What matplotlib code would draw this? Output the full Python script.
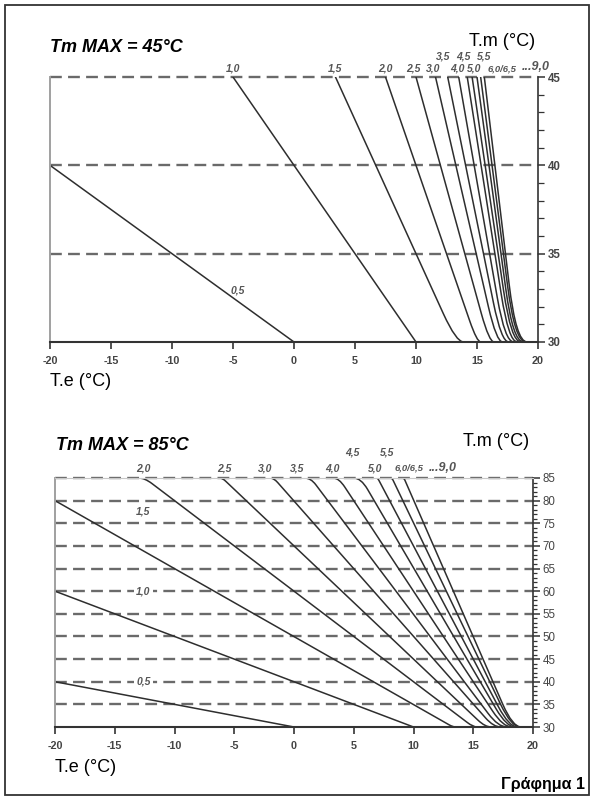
import matplotlib
matplotlib.use("Agg")
import matplotlib.pyplot as plt
from matplotlib.path import Path
from matplotlib.patches import PathPatch, Rectangle
from matplotlib.ticker import MultipleLocator

plt.rcParams['font.family'] = ['Liberation Sans', 'DejaVu Sans']
plt.rcParams['axes.unicode_minus'] = False
plt.rcParams['lines.scale_dashes'] = False

# ---------------- data: top chart (Tm MAX = 45) ----------------
top_labels = ["0,5", "1,0", "1,5", "2,0", "2,5", "3,0", "3,5", "4,0", "4,5", "5,0", "5,5", "6,0", "6,5"]
top_start_te = [-20, -5, 3.4, 7.5, 10.0, 11.6, 12.6, 13.5, 14.2, 14.6, 15.0, 15.3, 15.6]
top_start_tm = [40, 45, 45, 45, 45, 45, 45, 45, 45, 45, 45, 45, 45]
top_corner_te = [0, 10, 13.3, 15.0, 16.0, 16.6, 17.0, 17.3, 17.6, 17.8, 17.95, 18.1, 18.2]
top_end_te = [0, 10, 13.9, 15.3, 16.4, 17.1, 17.6, 18.0, 18.3, 18.6, 18.8, 19.0, 19.1]
top_knee_tm = [30, 30, 31.6, 31.2, 31.6, 32.0, 32.2, 32.5, 32.7, 32.9, 33.0, 33.2, 33.3]

top_row1 = ["1,0", "1,5", "2,0", "2,5", "3,0", "4,0", "5,0"]
top_row1_te = [-5.0, 3.4, 7.5, 9.8, 11.4, 13.4, 14.8]
top_row2 = ["3,5", "4,5", "5,5"]
top_row2_te = [12.2, 13.9, 15.6]

# ---------------- data: bottom chart (Tm MAX = 85) ----------------
bot_labels = ["0,5", "1,0", "1,5", "2,0", "2,5", "3,0", "3,5", "4,0", "4,5", "5,0", "5,5", "6,0"]
bot_start_te = [-20, -20, -20, -13.0, -6.2, -2.0, 0.9, 3.3, 5.0, 6.9, 8.1, 9.1]
bot_start_tm = [40, 60, 80, 85, 85, 85, 85, 85, 85, 85, 85, 85]
bot_topcorner_te = [-20, -20, -20, -12.5, -6.0, -1.7, 1.4, 3.75, 5.6, 7.0, 8.2, 9.2]
bot_topknee_tm = [40, 60, 80, 83.8, 84.3, 84.0, 83.5, 83.0, 82.5, 84.5, 84.5, 84.5]
bot_corner_te = [0, 10, 13.3, 15.0, 16.0, 16.7, 17.1, 17.5, 17.8, 18.0, 18.2, 18.3]
bot_end_te = [0, 10, 13.5, 15.3, 16.5, 17.3, 17.8, 18.2, 18.5, 18.7, 18.9, 19.0]
bot_knee_tm = [30, 30, 30.5, 31.0, 31.5, 32.0, 33.0, 33.5, 34.0, 34.5, 35.0, 35.0]

bot_row1 = ["2,0", "2,5", "3,0", "3,5", "4,0", "5,0"]
bot_row1_te = [-12.6, -5.8, -2.4, 0.3, 3.2, 6.8]
bot_row2 = ["4,5", "5,5"]
bot_row2_te = [4.9, 7.8]
bot_inner = ["1,5", "1,0", "0,5"]
bot_inner_tm = [77.7, 60, 40]

x_ticks = [-20, -15, -10, -5, 0, 5, 10, 15, 20]

CURVE = '#2e2e2e'
DASH = '#6a6a6a'
LAB = '#555555'

fig = plt.figure(figsize=(5.96, 8.0), dpi=100)
W, H = 596.0, 800.0


def add_axes_px(l, t, r, b):
    return fig.add_axes([l / W, 1 - b / H, (r - l) / W, (b - t) / H])


def draw_curve(ax, s, u, uk, l, lk, e):
    # u: upper corner, l: lower corner (straight part between them)
    def on_line(tm):
        f = (tm - u[1]) / (l[1] - u[1])
        return (u[0] + f * (l[0] - u[0]), tm)
    verts, codes = [], []
    if s != u:
        p1 = on_line(uk)
        verts += [s, u, p1]
        codes += [Path.MOVETO, Path.CURVE3, Path.CURVE3]
    else:
        verts += [u]
        codes += [Path.MOVETO]
    if e != l:
        p2 = on_line(lk)
        verts += [p2, l, e]
        codes += [Path.LINETO, Path.CURVE3, Path.CURVE3]
    else:
        verts += [l]
        codes += [Path.LINETO]
    ax.add_patch(PathPatch(Path(verts, codes), fill=False, edgecolor=CURVE,
                           lw=1.1, capstyle='round', joinstyle='round'))


def style_axes(ax, ymin, ymax, minor_len, major_len, ylab_bold, ylab_size):
    ax.set_xlim(-20, 20)
    ax.set_ylim(ymin, ymax)
    ax.spines['top'].set_visible(False)
    ax.spines['left'].set_color('#a0a0a0')
    ax.spines['left'].set_linewidth(1.4)
    ax.spines['bottom'].set_color('#333333')
    ax.spines['bottom'].set_linewidth(1.5)
    ax.spines['right'].set_color('#333333')
    ax.spines['right'].set_linewidth(1.2)
    ax.set_xticks(x_ticks)
    ax.set_xticklabels([str(v) for v in x_ticks])
    ax.tick_params(axis='x', direction='out', length=5, width=1.2, color='#333333',
                   labelsize=7.8, labelcolor='#444444', pad=5)
    for t in ax.get_xticklabels():
        t.set_fontweight('bold')
    ax.yaxis.tick_right()
    ax.yaxis.set_major_locator(MultipleLocator(5))
    ax.yaxis.set_minor_locator(MultipleLocator(1))
    ax.tick_params(axis='y', which='major', direction='out', length=major_len, width=1.1,
                   color='#333333', labelsize=ylab_size, labelcolor='#444444', pad=2)
    ax.tick_params(axis='y', which='minor', direction='out', length=minor_len, width=0.9,
                   color='#333333')
    for t in ax.get_yticklabels():
        t.set_fontweight('bold' if ylab_bold else 'normal')


# ================= top chart =================
ax1 = add_axes_px(50, 77, 538, 342)
style_axes(ax1, 30, 45, 4, 5, True, 8.3)
for lvl in [35, 40, 45]:
    ax1.plot([-20, 20], [lvl, lvl], color=DASH, lw=1.7, dashes=(8.5, 4.5), clip_on=False, zorder=1)
for i in range(len(top_labels)):
    s = (top_start_te[i], top_start_tm[i])
    l = (top_corner_te[i], 30)
    e = (top_end_te[i], 30)
    draw_curve(ax1, s, s, None, l, top_knee_tm[i], e)

lab_kw = dict(fontsize=7.5, fontstyle='italic', fontweight='bold', color=LAB, ha='center', va='center')
for t, x in zip(top_row1, top_row1_te):
    ax1.text(x, 45.48, t, clip_on=False, **lab_kw)
for t, x in zip(top_row2, top_row2_te):
    ax1.text(x, 46.15, t, clip_on=False, **lab_kw)
ax1.text(15.85, 45.48, "6,0/6,5", clip_on=False, fontsize=6.8, fontstyle='italic', fontweight='bold',
         color=LAB, ha='left', va='center')
ax1.text(21.0, 45.55, "...9,0", clip_on=False, fontsize=9, fontstyle='italic', fontweight='bold',
         color=LAB, ha='right', va='center')
ax1.text(-4.6, 32.9, "0,5", **lab_kw)

fig.text(50 / W, 1 - 47 / H, "Tm MAX = 45°C", fontsize=13, fontstyle='italic', fontweight='bold',
         ha='left', va='center', color='black')
fig.text(535 / W, 1 - 41 / H, "T.m (°C)", fontsize=13, ha='right', va='center', color='black')
fig.text(50 / W, 1 - 382 / H, "T.e (°C)", fontsize=13, ha='left', va='center', color='black')

# ================= bottom chart =================
ax2 = add_axes_px(55, 478, 533, 727)
style_axes(ax2, 30, 85, 3, 5, False, 8.3)
ax2.spines['top'].set_visible(True)
ax2.spines['top'].set_color('#c8c8c8')
ax2.spines['top'].set_linewidth(0.8)
for lvl in range(35, 90, 5):
    ax2.plot([-20, 20], [lvl, lvl], color=DASH, lw=1.7, dashes=(8.5, 4.5), clip_on=False, zorder=1)
for i in range(len(bot_labels)):
    s = (bot_start_te[i], bot_start_tm[i])
    u = (bot_topcorner_te[i], bot_start_tm[i])
    l = (bot_corner_te[i], 30)
    e = (bot_end_te[i], 30)
    draw_curve(ax2, s, u, bot_topknee_tm[i], l, bot_knee_tm[i], e)

for t, x in zip(bot_row1, bot_row1_te):
    ax2.text(x, 87.1, t, clip_on=False, **lab_kw)
for t, x in zip(bot_row2, bot_row2_te):
    ax2.text(x, 90.6, t, clip_on=False, **lab_kw)
ax2.text(8.4, 87.1, "6,0/6,5", clip_on=False, fontsize=6.8, fontstyle='italic', fontweight='bold',
         color=LAB, ha='left', va='center')
ax2.text(13.6, 87.3, "...9,0", clip_on=False, fontsize=9, fontstyle='italic', fontweight='bold',
         color=LAB, ha='right', va='center')
for t, y in zip(bot_inner, bot_inner_tm):
    ax2.text(-12.6, y, t, zorder=5,
             bbox=dict(boxstyle='square,pad=0.25', fc='white', ec='none'), **lab_kw)

fig.text(56 / W, 1 - 445 / H, "Tm MAX = 85°C", fontsize=13, fontstyle='italic', fontweight='bold',
         ha='left', va='center', color='black')
fig.text(529 / W, 1 - 441 / H, "T.m (°C)", fontsize=13, ha='right', va='center', color='black')
fig.text(55 / W, 1 - 768 / H, "T.e (°C)", fontsize=13, ha='left', va='center', color='black')
fig.text(585 / W, 1 - 784 / H, "Γράφημα 1", fontsize=11.5, fontweight='bold',
         ha='right', va='center', color='black')

# outer frame
fig.patches.append(Rectangle((5 / W, 5 / H), 584 / W, 790 / H, transform=fig.transFigure,
                             fill=False, edgecolor='#333333', lw=1.3))

fig.savefig("out.png", dpi=100)
